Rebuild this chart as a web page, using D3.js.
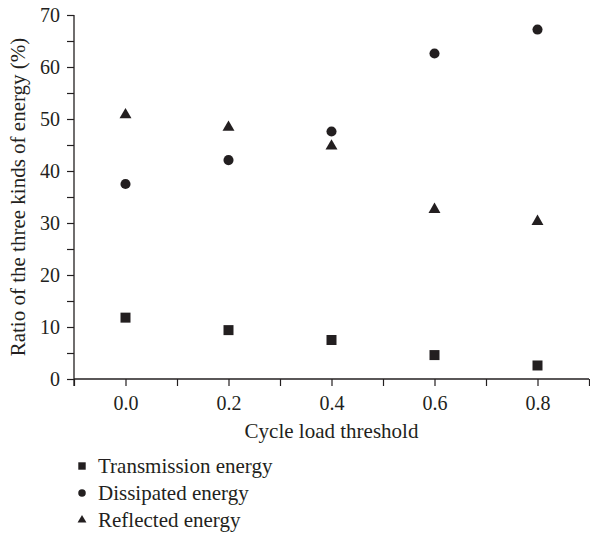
<!DOCTYPE html>
<html>
<head>
<meta charset="utf-8">
<script src="https://cdn.jsdelivr.net/npm/d3@7"></script>
<style>
  body { margin: 0; background: #fff; }
  text { font-family: 'Liberation Serif', 'DejaVu Serif', serif; fill: #231f20; }
</style>
</head>
<body>
<div id="chart"></div>
<script>
// cycle load threshold (x) and the three energy ratios (%)
var thresholds = [0.0, 0.2, 0.4, 0.6, 0.8];
var transmission = [11.8, 9.4, 7.5, 4.6, 2.6];
var dissipated = [37.5, 42.1, 47.6, 62.6, 67.2];
var reflected = [50.8, 48.4, 44.8, 32.6, 30.3];

var xTicks = [0.0, 0.2, 0.4, 0.6, 0.8];
var yTicks = [0, 10, 20, 30, 40, 50, 60, 70];

var series = [
  {name: 'Transmission energy', values: transmission, symbol: d3.symbolSquare, size: 100},
  {name: 'Dissipated energy', values: dissipated, symbol: d3.symbolCircle, size: 80},
  {name: 'Reflected energy', values: reflected, symbol: d3.symbolTriangle, size: 62}
];

var W = 590, H = 544;
var margins = {left: 74, right: 1, top: 15, bottom: 165};
var ink = '#231f20';

var svg = d3.select('#chart')
  .append('svg')
  .attr('width', W)
  .attr('height', H);

var x = d3.scaleLinear().domain([-0.1, 0.9]).range([margins.left, W - margins.right]);
var y = d3.scaleLinear().domain([0, 70]).range([H - margins.bottom, margins.top]);

// minor ticks (no labels)
var xMinor = d3.range(-1, 10).map(function(i) { return i / 10; });
var yMinor = d3.range(0, 71, 5);

var xAxis = svg.append('g')
  .attr('transform', 'translate(0,' + y(0) + ')')
  .call(d3.axisBottom(x).tickValues(xMinor).tickSize(7)
    .tickFormat(function(d) {
      var hit = xTicks.some(function(t) { return Math.abs(t - d) < 1e-9; });
      return hit ? d3.format('.1f')(d) : '';
    }));

var yAxis = svg.append('g')
  .attr('transform', 'translate(' + x(-0.1) + ',0)')
  .call(d3.axisLeft(y).tickValues(yMinor).tickSize(7)
    .tickFormat(function(d) { return yTicks.indexOf(d) >= 0 ? d : ''; }));

[xAxis, yAxis].forEach(function(g) {
  g.select('.domain').attr('stroke', ink).attr('stroke-width', 1.3);
  g.selectAll('.tick line').attr('stroke', ink).attr('stroke-width', 1.2);
  g.selectAll('.tick text')
    .attr('font-family', "'Liberation Serif', serif")
    .attr('font-size', 20)
    .attr('fill', ink);
});
xAxis.select('.domain').attr('d', 'M' + x(-0.1) + ',0H' + x(0.9));
xAxis.selectAll('.tick text').attr('y', 17).attr('dy', '0.71em');
yAxis.select('.domain').attr('d', 'M0,' + (y(0) + 7) + 'V' + y(70));
yAxis.selectAll('.tick text').attr('x', -14);

// axis titles
svg.append('text')
  .attr('x', x(0.4))
  .attr('y', 438)
  .attr('text-anchor', 'middle')
  .attr('font-size', 21)
  .text('Cycle load threshold');

svg.append('text')
  .attr('transform', 'translate(25,' + ((y(0) + y(70)) / 2) + ') rotate(-90)')
  .attr('text-anchor', 'middle')
  .attr('font-size', 21)
  .text('Ratio of the three kinds of energy (%)');

// points
series.forEach(function(s) {
  var sym = d3.symbol().type(s.symbol).size(s.size);
  svg.append('g')
    .selectAll('path')
    .data(s.values)
    .enter()
    .append('path')
    .attr('d', sym)
    .attr('fill', ink)
    .attr('transform', function(d, i) {
      return 'translate(' + x(thresholds[i]) + ',' + y(d) + ')';
    });
});

// legend
var legend = svg.append('g')
  .attr('transform', 'translate(82,466)');
var rows = legend.selectAll('g')
  .data(series)
  .enter()
  .append('g')
  .attr('transform', function(d, i) { return 'translate(0,' + i * 27 + ')'; });
rows.append('path')
  .attr('d', function(d) {
    return d3.symbol().type(d.symbol).size(d.size * 0.55)();
  })
  .attr('fill', ink);
rows.append('text')
  .attr('x', 16)
  .attr('dy', '0.35em')
  .attr('font-size', 21)
  .text(function(d) { return d.name; });
</script>
</body>
</html>
